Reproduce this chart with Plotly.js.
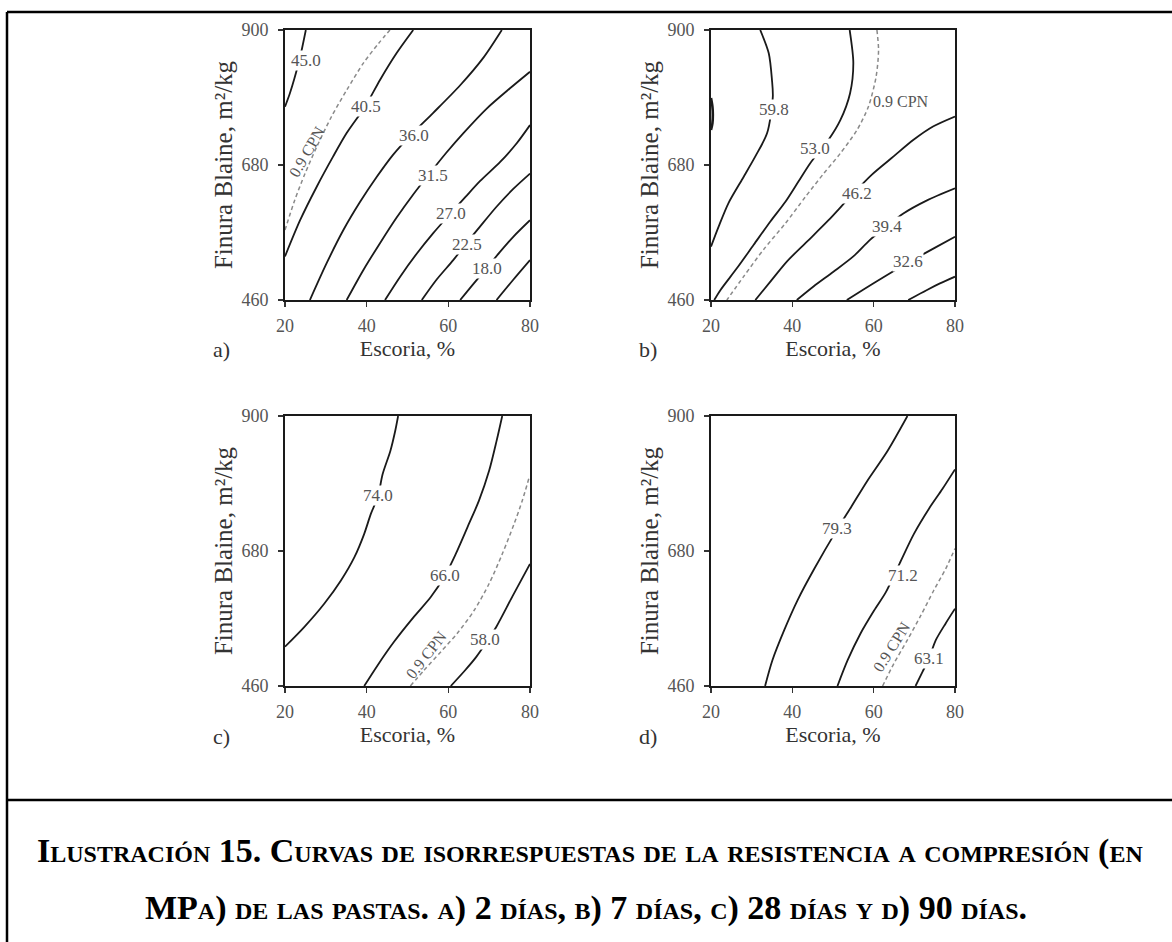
<!DOCTYPE html>
<html>
<head>
<meta charset="utf-8">
<script src="https://cdn.plot.ly/plotly-3.0.1.min.js"></script>
<style>
html, body { margin: 0; padding: 0; background: #ffffff; }
#chart { width: 1172px; height: 942px; }
</style>
</head>
<body>
<div id="chart"></div>
<script>
// ---------------- axis values ----------------
const escoriaTicks = [20, 40, 60, 80];
const blaineTicks = [460, 680, 900];
const escoriaRange = [20, 80];
const blaineRange = [460, 900];

// ---------------- panel a) 2 días ----------------
const a450x = [20.0, 21.2, 22.3, 23.7, 25.1];
const a450y = [775, 797, 821, 856, 900];
const a405x = [20.0, 23.7, 27.8, 31.8, 35.1, 39.6, 43.3, 47.3, 51.4];
const a405y = [531, 590, 645, 694, 732, 775, 819, 862, 900];
const aCPNx = [20.0, 22.4, 24.9, 27.8, 31.4, 35.1, 39.2, 42.9, 45.7];
const aCPNy = [574, 623, 666, 710, 759, 802, 846, 878, 900];
const a360x = [26.1, 30.2, 34.3, 38.4, 42.4, 46.5, 51.0, 56.3, 62.9, 68.6, 73.1];
const a360y = [460, 520, 574, 620, 660, 697, 730, 765, 810, 855, 900];
const a315x = [35.1, 39.2, 43.3, 47.3, 51.4, 55.5, 59.5, 63.7, 69.4, 75.1, 80.0];
const a315y = [460, 509, 553, 594, 632, 667, 700, 732, 772, 805, 832];
const a270x = [44.5, 48.2, 52.2, 56.3, 60.4, 64.2, 67.8, 72.7, 76.7, 80.0];
const a270y = [460, 498, 535, 569, 600, 628, 654, 685, 715, 745];
const a225x = [53.5, 57.1, 61.2, 64.5, 67.8, 71.8, 75.9, 80.0];
const a225y = [460, 493, 525, 553, 580, 612, 641, 666];
const a180x = [62.9, 66.1, 69.4, 72.6, 75.9, 80.0];
const a180y = [460, 486, 512, 538, 563, 590];
const a135x = [71.8, 75.9, 80.0];
const a135y = [460, 493, 525];
const aLabelText = ["45.0", "40.5", "36.0", "31.5", "27.0", "22.5", "18.0"];
const aLabelX = [25.1, 39.8, 51.7, 56.3, 60.6, 64.5, 69.5];
const aLabelY = [851, 775, 728, 663, 601, 551, 512];
const aCPNLabel = {text: "0.9 CPN", x: 25.4, y: 702};

// ---------------- panel b) 7 días ----------------
const b666x = [20.0, 20.35, 20.45, 20.35, 20.0];
const b666y = [789, 775, 762, 748, 737];
const b598x = [32.1, 34.2, 35.0, 35.2, 33.8, 30.9, 27.6, 24.3, 21.9, 20.0];
const b598y = [900, 862, 818, 791, 732, 694, 656, 618, 580, 547];
const b530x = [54.1, 55.0, 54.2, 51.8, 48.9, 44.4, 41.5, 38.3, 34.6, 30.5, 26.4, 22.3, 20.8];
const b530y = [900, 846, 797, 753, 721, 683, 653, 620, 588, 550, 512, 476, 460];
const bCPNx = [60.8, 61.2, 60.6, 58.7, 55.9, 51.8, 47.7, 43.2, 38.3, 32.9, 28.0, 23.9];
const bCPNy = [900, 867, 824, 775, 737, 699, 666, 628, 585, 542, 498, 460];
const b462x = [30.9, 34.6, 38.7, 43.6, 48.9, 54.2, 59.5, 64.9, 69.8, 74.7, 80.0];
const b462y = [460, 490, 523, 555, 590, 628, 664, 694, 721, 743, 759];
const b394x = [41.1, 45.2, 50.1, 55.0, 59.1, 63.2, 67.3, 73.0, 80.0];
const b394y = [460, 482, 506, 531, 558, 580, 601, 622, 642];
const b326x = [53.4, 57.5, 62.4, 68.5, 75.0, 80.0];
const b326y = [460, 477, 497, 521, 545, 563];
const b258x = [68.5, 73.0, 76.3, 80.0];
const b258y = [460, 476, 487, 498];
const bLabelText = ["59.8", "53.0", "46.2", "39.4", "32.6"];
const bLabelX = [35.4, 45.6, 55.9, 63.2, 68.5];
const bLabelY = [770, 707, 633, 580, 522];
const bCPNLabel = {text: "0.9 CPN", x: 66.8, y: 783};

// ---------------- panel c) 28 días ----------------
const c740x = [20.0, 24.7, 29.6, 33.7, 37.0, 39.4, 41.0, 42.8, 43.9, 45.8, 47.0, 47.7];
const c740y = [524, 556, 594, 632, 670, 708, 740, 770, 805, 843, 876, 900];
const c660x = [39.4, 42.7, 46.7, 51.6, 55.7, 59.2, 61.8, 64.7, 67.5, 70.0, 71.8, 73.2];
const c660y = [460, 494, 532, 573, 605, 640, 675, 719, 762, 811, 859, 900];
const cCPNx = [50.7, 54.1, 58.2, 62.2, 66.3, 70.0, 73.2, 76.1, 78.1, 79.8];
const cCPNy = [460, 486, 516, 546, 583, 627, 675, 724, 762, 800];
const c580x = [60.6, 63.9, 66.8, 69.4, 71.8, 75.7, 80.0];
const c580y = [460, 484, 507, 532, 557, 606, 659];
const cLabelText = ["74.0", "66.0", "58.0"];
const cLabelX = [42.8, 59.2, 68.9];
const cLabelY = [770, 640, 535];
const cCPNLabel = {text: "0.9 CPN", x: 54.6, y: 512};

// ---------------- panel d) 90 días ----------------
const d793x = [33.3, 35.1, 38.0, 41.3, 45.4, 51.1, 54.4, 58.5, 63.4, 68.3];
const d793y = [460, 502, 551, 600, 651, 716, 751, 795, 843, 900];
const d712x = [51.1, 53.6, 56.8, 60.1, 63.0, 66.4, 69.9, 73.6, 76.9, 80.0];
const d712y = [460, 502, 546, 583, 613, 660, 708, 749, 781, 813];
const dCPNx = [62.2, 65.0, 68.3, 71.6, 74.8, 77.7, 80.0];
const dCPNy = [460, 497, 535, 575, 616, 651, 684];
const d631x = [70.3, 72.0, 73.6, 75.3, 77.7, 80.0];
const d631y = [460, 483, 505, 535, 562, 586];
const dLabelText = ["79.3", "71.2", "63.1"];
const dLabelX = [51.1, 67.2, 73.6];
const dLabelY = [716, 640, 505];
const dCPNLabel = {text: "0.9 CPN", x: 64.5, y: 524};

// ---------------- texts ----------------
const xTitleText = "Escoria, %";
const yTitleText = "Finura Blaine, m\u00B2/kg";
const panelLetters = ["a)", "b)", "c)", "d)"];
const captionLine1 = "Ilustración 15. Curvas de isorrespuestas de la resistencia a compresión (en";
const captionLine2 = "MPa) de las pastas. a) 2 días, b) 7 días, c) 28 días y d) 90 días.";

// ================= drawing =================
const W = 1172, H = 942;
const SERIF = "Liberation Serif, Times New Roman, serif";
const px = v => v / W;
const py = v => 1 - v / H;

const traces = [];
function solid(x, y, ax, width) {
  traces.push({type: 'scatter', mode: 'lines', x: x, y: y, xaxis: 'x' + ax, yaxis: 'y' + ax,
    line: {color: '#1a1a1a', width: width || 1.8, shape: 'spline', smoothing: 0.8},
    hoverinfo: 'skip', showlegend: false});
}
function dashed(x, y, ax) {
  traces.push({type: 'scatter', mode: 'lines', x: x, y: y, xaxis: 'x' + ax, yaxis: 'y' + ax,
    line: {color: '#8a8a8a', width: 1.5, dash: '4px,3px', shape: 'spline', smoothing: 0.8},
    hoverinfo: 'skip', showlegend: false});
}
[[a450x,a450y],[a405x,a405y],[a360x,a360y],[a315x,a315y],[a270x,a270y],[a225x,a225y],[a180x,a180y],[a135x,a135y]]
  .forEach(p => solid(p[0], p[1], ''));
dashed(aCPNx, aCPNy, '');
[[b598x,b598y],[b530x,b530y],[b462x,b462y],[b394x,b394y],[b326x,b326y],[b258x,b258y]]
  .forEach(p => solid(p[0], p[1], '2'));
solid(b666x, b666y, '2', 2.6);
dashed(bCPNx, bCPNy, '2');
[[c740x,c740y],[c660x,c660y],[c580x,c580y]].forEach(p => solid(p[0], p[1], '3'));
dashed(cCPNx, cCPNy, '3');
[[d793x,d793y],[d712x,d712y],[d631x,d631y]].forEach(p => solid(p[0], p[1], '4'));
dashed(dCPNx, dCPNy, '4');

const annotations = [];
function labels(texts, xs, ys, ax) {
  texts.forEach((t, i) => annotations.push({
    text: t, x: xs[i], y: ys[i], xref: 'x' + ax, yref: 'y' + ax, showarrow: false,
    xanchor: 'center', yanchor: 'middle',
    bgcolor: '#ffffff', borderpad: 0,
    font: {family: SERIF, size: 17, color: '#555555'}
  }));
}
function cpn(lbl, ax, angle) {
  annotations.push({text: lbl.text, x: lbl.x, y: lbl.y, xref: 'x' + ax, yref: 'y' + ax,
    showarrow: false, textangle: angle, xanchor: 'center', yanchor: 'middle',
    font: {family: SERIF, size: 16, color: '#555555'}});
}
labels(aLabelText, aLabelX, aLabelY, '');
labels(bLabelText, bLabelX, bLabelY, '2');
labels(cLabelText, cLabelX, cLabelY, '3');
labels(dLabelText, dLabelX, dLabelY, '4');
cpn(aCPNLabel, '', -60);
cpn(bCPNLabel, '2', 0);
cpn(cCPNLabel, '3', -52);
cpn(dCPNLabel, '4', -58);

// panel geometry (pixels)
const cols = [[285, 530], [711, 955]];
const rows = [[30, 300], [416, 686]];
const panels = [
  {ax: '', col: 0, row: 0}, {ax: '2', col: 1, row: 0},
  {ax: '3', col: 0, row: 1}, {ax: '4', col: 1, row: 1}
];

const layout = {
  width: W, height: H,
  margin: {l: 0, r: 0, t: 0, b: 0},
  paper_bgcolor: '#ffffff', plot_bgcolor: '#ffffff',
  showlegend: false,
  font: {family: SERIF},
  annotations: annotations,
  shapes: [
    {type: 'line', xref: 'paper', yref: 'paper', x0: px(7), x1: 1, y0: py(12), y1: py(12), line: {color: '#000', width: 2.5}},
    {type: 'line', xref: 'paper', yref: 'paper', x0: px(7), x1: px(7), y0: py(12), y1: 0, line: {color: '#000', width: 2.5}},
    {type: 'line', xref: 'paper', yref: 'paper', x0: px(7), x1: 1, y0: py(800), y1: py(800), line: {color: '#000', width: 2.5}}
  ]
};

panels.forEach((p, i) => {
  const c = cols[p.col], r = rows[p.row];
  const common = {
    showline: true, mirror: true, linecolor: '#1a1a1a', linewidth: 2,
    ticks: 'outside', ticklen: 5, tickwidth: 1.5, tickcolor: '#333',
    showgrid: false, zeroline: false, fixedrange: true,
    tickfont: {family: SERIF, size: 18, color: '#555555'}
  };
  layout['xaxis' + p.ax] = Object.assign({}, common, {
    domain: [px(c[0]), px(c[1])], anchor: 'y' + p.ax, range: escoriaRange,
    tickvals: escoriaTicks, ticktext: escoriaTicks.map(String), ticklabelstandoff: 3,
    title: {text: xTitleText, standoff: 3, font: {family: SERIF, size: 22, color: '#333333'}}
  });
  layout['yaxis' + p.ax] = Object.assign({}, common, {
    domain: [py(r[1]), py(r[0])], anchor: 'x' + p.ax, range: blaineRange,
    tickvals: blaineTicks, ticktext: blaineTicks.map(String), ticklabelstandoff: 6,
    title: {text: yTitleText, standoff: 2, font: {family: SERIF, size: 25, color: '#333333'}}
  });
  annotations.push({text: panelLetters[i], xref: 'paper', yref: 'paper',
    x: px(c[0] - 63), y: py(r[1] + 50), xanchor: 'center', yanchor: 'middle', showarrow: false,
    font: {family: SERIF, size: 22, color: '#333333'}});
});

// caption
const capFont = {family: SERIF, size: 34, color: '#000000', weight: 'bold', variant: 'small-caps'};
annotations.push({text: captionLine1, xref: 'paper', yref: 'paper', x: px(590), y: py(851),
  xanchor: 'center', yanchor: 'middle', showarrow: false, font: capFont});
annotations.push({text: captionLine2, xref: 'paper', yref: 'paper', x: px(586), y: py(908),
  xanchor: 'center', yanchor: 'middle', showarrow: false, font: capFont});

Plotly.newPlot('chart', traces, layout, {staticPlot: true, displayModeBar: false});
</script>
</body>
</html>
